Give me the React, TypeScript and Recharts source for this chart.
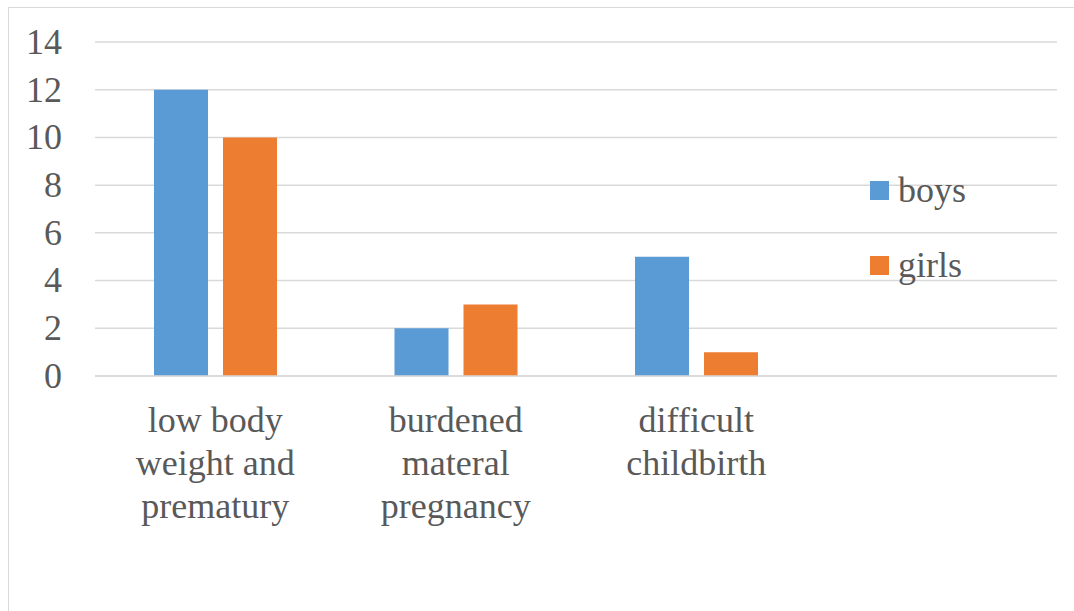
import React from "react";
import { BarChart, Bar, XAxis, YAxis, CartesianGrid } from "recharts";

const categories = [
  ["low body", "weight and", "prematury"],
  ["burdened", "materal", "pregnancy"],
  ["difficult", "childbirth"],
  [],
];
const boys: (number | null)[] = [12, 2, 5, null];
const girls: (number | null)[] = [10, 3, 1, null];
const yTicks = [0, 2, 4, 6, 8, 10, 12, 14];

const seriesNames = ["boys", "girls"];
const colors = ["#5B9BD5", "#ED7D31"];

const data = categories.map((lines, i) => ({
  name: lines.join(" ") || `c${i}`,
  boys: boys[i],
  girls: girls[i],
}));

const FONT = "'Liberation Serif', 'Times New Roman', serif";
const TEXT = "#595959";

const XTick = (props: any) => {
  const { x, y, index } = props;
  const lines = categories[index] ?? [];
  return (
    <text x={x} y={y} textAnchor="middle" style={{ fontFamily: FONT }} fontSize={36} fill={TEXT}>
      {lines.map((l: string, k: number) => (
        <tspan key={k} x={x} y={y + 48 + k * 43}>
          {l}
        </tspan>
      ))}
    </text>
  );
};

const YTick = (props: any) => {
  const { y, payload } = props;
  return (
    <text x={62} y={y} dy="0.33em" textAnchor="end" style={{ fontFamily: FONT }} fontSize={36} fill={TEXT}>
      {payload.value}
    </text>
  );
};

export default function App() {
  return (
    <div style={{ position: "absolute", left: 0, top: 0, width: 1074, height: 611, background: "#fff", overflow: "hidden" }}>
      <div
        style={{
          position: "absolute",
          left: 8,
          top: 7,
          width: 1100,
          height: 700,
          borderLeft: "1px solid #d9d9d9",
          borderTop: "1px solid #d9d9d9",
        }}
      />
      <div style={{ position: "absolute", left: 0, top: 0 }}>
        <BarChart
          width={1074}
          height={611}
          data={data}
          margin={{ top: 42, right: 17, left: 0, bottom: 135 }}
          barSize={54}
          barGap={15}
        >
          <CartesianGrid vertical={false} stroke="#d9d9d9" strokeWidth={1.5} />
          <XAxis
            dataKey="name"
            tick={<XTick />}
            axisLine={{ stroke: "#d9d9d9", strokeWidth: 1.5 }}
            tickLine={false}
            height={100}
            interval={0}
          />
          <YAxis
            width={95}
            domain={[0, 14]}
            ticks={yTicks}
            tick={<YTick />}
            axisLine={false}
            tickLine={false}
            interval={0}
          />
          <Bar dataKey="boys" name={seriesNames[0]} fill={colors[0]} isAnimationActive={false} />
          <Bar dataKey="girls" name={seriesNames[1]} fill={colors[1]} isAnimationActive={false} />
        </BarChart>
      </div>
      <div style={{ position: "absolute", left: 870, top: 180, fontFamily: FONT }}>
        {seriesNames.map((n, i) => (
          <div
            key={n}
            style={{ display: "flex", alignItems: "center", height: 20, marginBottom: i === 0 ? 55 : 0 }}
          >
            <div style={{ width: 19, height: 19, background: colors[i], marginRight: 9 }} />
            <span style={{ fontSize: 36, color: TEXT, lineHeight: "20px" }}>{n}</span>
          </div>
        ))}
      </div>
    </div>
  );
}
